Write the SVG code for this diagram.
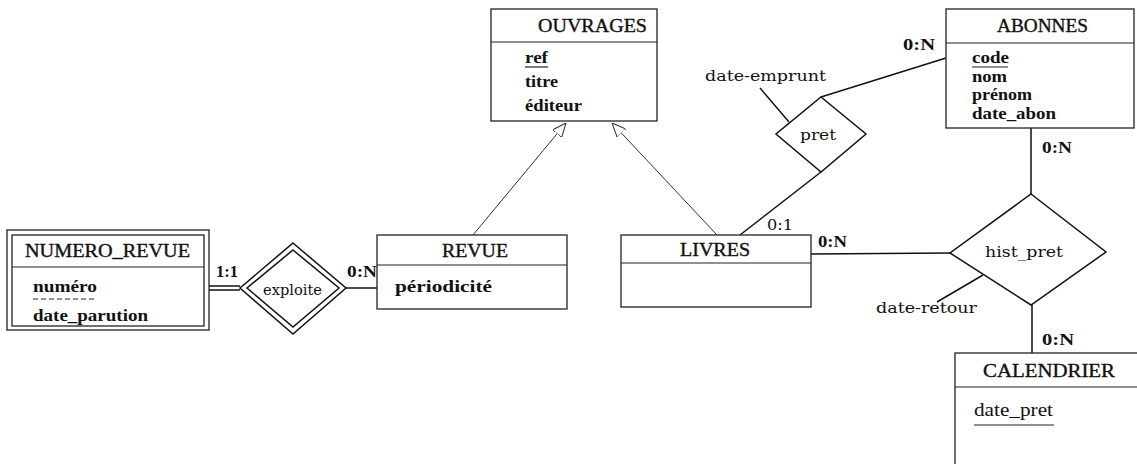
<svg xmlns="http://www.w3.org/2000/svg" width="1137" height="464" viewBox="0 0 1137 464">
  <style>
    .box { fill: #fff; stroke: #222; stroke-width: 1.3; }
    .sep { stroke: #222; stroke-width: 1.2; fill: none; }
    .rel { fill: #fff; stroke: #111; stroke-width: 1.5; }
    .link { stroke: #111; stroke-width: 1.5; fill: none; }
    .gen { stroke: #333; stroke-width: 1; fill: none; }
    .name { font-family: "Liberation Serif", "Times New Roman", serif; font-size: 18px; fill: #111; stroke: #111; stroke-width: 0.35; }
    .plain { font-family: "Liberation Serif", "Times New Roman", serif; font-size: 18px; fill: #111; }
    .attr { font-family: "Liberation Serif", "Times New Roman", serif; font-size: 17px; font-weight: bold; fill: #111; }
    .card { font-family: "Liberation Serif", "Times New Roman", serif; font-size: 17px; font-weight: bold; fill: #111; }
    .lbl { font-family: "DejaVu Serif", serif; font-size: 15px; fill: #111; }
  </style>
  <defs>
    <marker id="isa" viewBox="0 0 14 12" refX="14" refY="6" markerWidth="14" markerHeight="12" markerUnits="userSpaceOnUse" orient="auto">
      <path d="M0,0 L14,6 L0,12 Z" fill="#fff" stroke="#333" stroke-width="1"/>
    </marker>
  </defs>

  <!-- connectors -->
  <g id="connectors">
    <line class="gen" x1="473" y1="235" x2="566" y2="123" marker-end="url(#isa)"/>
    <line class="gen" x1="717" y1="235" x2="612" y2="123" marker-end="url(#isa)"/>
    <line class="link" x1="946" y1="58" x2="821" y2="97"/>
    <line class="link" x1="821" y1="172" x2="740" y2="235"/>
    <line class="link" x1="760" y1="88" x2="789" y2="122"/>
    <line class="link" x1="811" y1="254" x2="950" y2="253"/>
    <line class="link" x1="1031" y1="128" x2="1031" y2="194"/>
    <line class="link" x1="1032" y1="305" x2="1032" y2="353"/>
    <line class="link" x1="937" y1="302" x2="983" y2="275"/>
    <line class="link" x1="346" y1="288" x2="377" y2="288"/>
    <line class="link" x1="209" y1="286" x2="240" y2="286" stroke-width="1.2"/>
    <line class="link" x1="209" y1="290" x2="240" y2="290" stroke-width="1.2"/>
    <text class="card" x="903" y="50" textLength="32" lengthAdjust="spacingAndGlyphs">0:N</text>
    <text class="lbl" x="705" y="81" textLength="121" lengthAdjust="spacingAndGlyphs">date-emprunt</text>
    <text class="lbl" x="767" y="230" font-size="14" textLength="26" lengthAdjust="spacingAndGlyphs">0:1</text>
    <text class="card" x="818" y="247" textLength="29" lengthAdjust="spacingAndGlyphs">0:N</text>
    <text class="card" x="1042" y="153" textLength="30" lengthAdjust="spacingAndGlyphs">0:N</text>
    <text class="card" x="1042" y="345" textLength="32" lengthAdjust="spacingAndGlyphs">0:N</text>
    <text class="lbl" x="876" y="313" textLength="101" lengthAdjust="spacingAndGlyphs">date-retour</text>
    <text class="card" x="216" y="277" textLength="22" lengthAdjust="spacingAndGlyphs">1:1</text>
    <text class="card" x="347" y="277" textLength="30" lengthAdjust="spacingAndGlyphs">0:N</text>
  </g>

  <!-- OUVRAGES -->
  <g id="ouvrages">
    <rect class="box" x="491" y="9" width="166" height="112"/>
    <line class="sep" x1="491" y1="42" x2="657" y2="42"/>
    <text class="name" x="538" y="32" textLength="109" lengthAdjust="spacingAndGlyphs">OUVRAGES</text>
    <text class="attr" x="525" y="63" textLength="23" lengthAdjust="spacingAndGlyphs">ref</text>
    <line class="sep" x1="525" y1="67" x2="548" y2="67"/>
    <text class="attr" x="525" y="87" textLength="33" lengthAdjust="spacingAndGlyphs">titre</text>
    <text class="attr" x="525" y="111" textLength="57" lengthAdjust="spacingAndGlyphs">éditeur</text>
  </g>

  <!-- ABONNES -->
  <g id="abonnes">
    <rect class="box" x="946" y="9" width="188" height="119"/>
    <line class="sep" x1="946" y1="43" x2="1134" y2="43"/>
    <text class="name" x="997" y="32" textLength="91" lengthAdjust="spacingAndGlyphs">ABONNES</text>
    <text class="attr" x="972" y="63" textLength="37" lengthAdjust="spacingAndGlyphs">code</text>
    <line class="sep" x1="972" y1="67" x2="1008" y2="67"/>
    <text class="attr" x="972" y="82" textLength="35" lengthAdjust="spacingAndGlyphs">nom</text>
    <text class="attr" x="972" y="100" textLength="60" lengthAdjust="spacingAndGlyphs">prénom</text>
    <text class="attr" x="972" y="119" textLength="84" lengthAdjust="spacingAndGlyphs">date_abon</text>
  </g>

  <!-- pret -->
  <g id="pret">
    <polygon class="rel" points="821,97 866,134 821,172 776,134"/>
    <text class="lbl" x="800" y="140" font-size="16" textLength="36" lengthAdjust="spacingAndGlyphs">pret</text>
  </g>

  <!-- NUMERO_REVUE (weak entity) -->
  <g id="numero_revue">
    <rect class="box" x="7" y="230" width="202" height="100"/>
    <rect class="box" x="12" y="235" width="192" height="91"/>
    <line class="sep" x1="12" y1="267" x2="204" y2="267"/>
    <text class="name" x="25" y="257" textLength="165" lengthAdjust="spacingAndGlyphs">NUMERO_REVUE</text>
    <text class="attr" x="33" y="292" textLength="64" lengthAdjust="spacingAndGlyphs">numéro</text>
    <line class="sep" x1="33" y1="299" x2="97" y2="299" stroke-dasharray="5,3"/>
    <text class="attr" x="33" y="321" textLength="115" lengthAdjust="spacingAndGlyphs">date_parution</text>
  </g>

  <!-- exploite (weak relationship) -->
  <g id="exploite">
    <polygon class="rel" points="293,243 346,288 293,334 240,288"/>
    <polygon class="rel" points="293,250 339,288 293,327 247,288" stroke-width="1.3"/>
    <text class="lbl" x="263" y="295" font-size="13" textLength="59" lengthAdjust="spacingAndGlyphs">exploite</text>
  </g>

  <!-- REVUE -->
  <g id="revue">
    <rect class="box" x="377" y="235" width="190" height="74"/>
    <line class="sep" x1="377" y1="265" x2="567" y2="265"/>
    <text class="name" x="442" y="257" textLength="66" lengthAdjust="spacingAndGlyphs">REVUE</text>
    <text class="attr" x="395" y="292" textLength="97" lengthAdjust="spacingAndGlyphs">périodicité</text>
  </g>

  <!-- LIVRES -->
  <g id="livres">
    <rect class="box" x="621" y="235" width="190" height="72"/>
    <line class="sep" x1="621" y1="263" x2="811" y2="263"/>
    <text class="name" x="680" y="256" textLength="70" lengthAdjust="spacingAndGlyphs">LIVRES</text>
  </g>

  <!-- hist_pret -->
  <g id="hist_pret">
    <polygon class="rel" points="1031,194 1106,252 1031,305 950,253"/>
    <text class="lbl" x="985" y="257" font-size="16" textLength="78" lengthAdjust="spacingAndGlyphs">hist_pret</text>
  </g>

  <!-- CALENDRIER -->
  <g id="calendrier">
    <rect class="box" x="955" y="353" width="200" height="130"/>
    <line class="sep" x1="955" y1="387" x2="1137" y2="387"/>
    <text class="name" x="983" y="377" textLength="132" lengthAdjust="spacingAndGlyphs">CALENDRIER</text>
    <text class="plain" x="974" y="416" textLength="79" lengthAdjust="spacingAndGlyphs">date_pret</text>
    <line class="sep" x1="974" y1="425" x2="1054" y2="425"/>
  </g>
</svg>
